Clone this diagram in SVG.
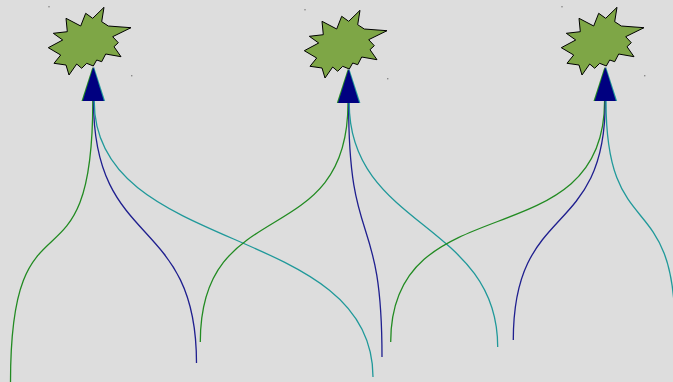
<svg xmlns="http://www.w3.org/2000/svg" xmlns:xlink="http://www.w3.org/1999/xlink" width="673" height="382" viewBox="0 0 673 382">
<style>
.star{fill:#7ea646;stroke:#000;stroke-width:1;stroke-linejoin:miter}
.dot{fill:#8a8a8a}
.c{fill:none;stroke-width:1.3}
.g{stroke:#228b22}
.n{stroke:#1f1f8f}
.t{stroke:#20999a}
</style>
<defs>
<path id="starShape" class="star" d="M48.3,47.7 L62.7,40 L53.3,33.3 L67.3,31.7 L66,18.3 L80.7,26 L85.7,13.3 L92.7,18.3 L104,7.3 L101.7,21.7 L108.3,26 L131,27.7 L112.7,36.7 L118.3,42.7 L114,46.7 L121,56.7 L105.7,54 L101.7,61.7 L96.7,60 L93.3,66 L86.7,63.3 L81.7,68.3 L76.7,64 L69,75 L66,65 L54,63.3 L60.7,55 Z"/>
<g id="arrow">
<polygon points="-0.8,0 -11.8,34 10.2,34" fill="#228b22"/>
<polygon points="0.8,0 -10.2,34 11.8,34" fill="#20999a"/>
<polygon points="0,0 -10.6,34 10.6,34" fill="#000080"/>
</g>
</defs>
<rect x="0" y="0" width="673" height="382" fill="#dddddd"/>
<g id="connectors">
<path class="c g" d="M92.8,101 C92.8,306 10.5,177 10.5,382"/>
<path class="c n" d="M93.5,101 C93.5,251 196.5,213 196.5,363"/>
<path class="c t" d="M94.2,101 C94.2,256 373,222 373,377"/>
<path class="c g" d="M348,103 C348,253 200.3,192 200.3,342"/>
<path class="c n" d="M348.6,103 C348.6,253 382,207 382,357"/>
<path class="c t" d="M349.2,103 C349.2,228 497.7,222 497.7,347"/>
<path class="c g" d="M604.6,101 C604.6,261 390.7,182 390.7,342"/>
<path class="c n" d="M605.3,101 C605.3,241 513.3,200 513.3,340"/>
<path class="c t" d="M606,101 C606,246 675,185 675,330"/>
<use xlink:href="#arrow" href="#arrow" transform="translate(93.3,67)"/>
<use xlink:href="#arrow" href="#arrow" transform="translate(348.6,69)"/>
<use xlink:href="#arrow" href="#arrow" transform="translate(605.3,67)"/>
</g>
<g id="node1">
<use xlink:href="#starShape" href="#starShape"/>
<rect class="dot" x="48.3" y="6" width="1.4" height="1.4"/>
<rect class="dot" x="131" y="75" width="1.4" height="1.4"/>
</g>
<g id="node2" transform="translate(256,3)">
<use xlink:href="#starShape" href="#starShape"/>
<rect class="dot" x="48.3" y="6" width="1.4" height="1.4"/>
<rect class="dot" x="131" y="75" width="1.4" height="1.4"/>
</g>
<g id="node3" transform="translate(513,0)">
<use xlink:href="#starShape" href="#starShape"/>
<rect class="dot" x="48.3" y="6" width="1.4" height="1.4"/>
<rect class="dot" x="131" y="75" width="1.4" height="1.4"/>
</g>
</svg>
